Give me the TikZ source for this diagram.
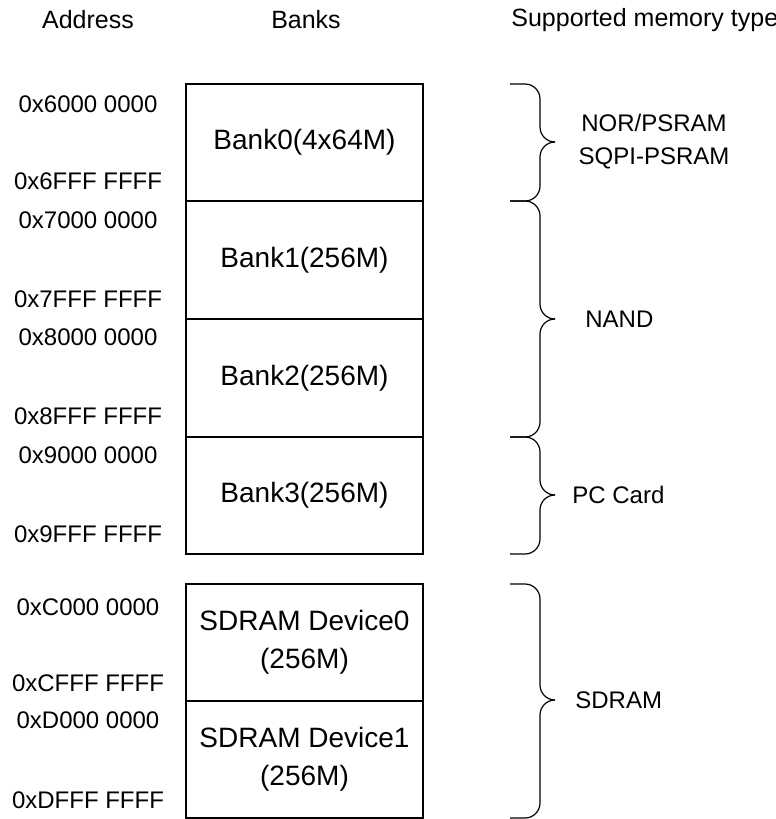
\documentclass[tikz,border=0pt]{standalone}
\usepackage{fontspec}
\setmainfont{Liberation Sans}
\usetikzlibrary{positioning}

\tikzset{
  bank/.style={draw, line width=0.6pt, minimum width=118.5pt, minimum height=58.5pt,
    inner sep=0pt, align=center, font=\fontsize{14}{19}\selectfont},
  addr/.style={font=\fontsize{12}{14}\selectfont, inner sep=0pt},
  head/.style={font=\fontsize{12.5}{15}\selectfont, inner sep=0pt},
  memtype/.style={font=\fontsize{12}{16.5}\selectfont, inner sep=0pt, align=center},
  membrace/.style={line width=0.6pt, rounded corners=7.5pt},
}

\begin{document}
\begin{tikzpicture}[x=0.5pt, y=-0.5pt]
  \useasboundingbox (0,0) rectangle (776,819);

  % column heads
  \node[head] (hAddr) at (88,20) {Address};
  \node[head] (hBanks) at (306,20) {Banks};
  \node[head, anchor=west] (hType) at (511,20) {Supported memory type};

  % banks
  \node[bank] (b0) at (304.5,142.5) {Bank0(4x64M)};
  \node[bank] (b1) at (304.5,260) {Bank1(256M)};
  \node[bank] (b2) at (304.5,378) {Bank2(256M)};
  \node[bank] (b3) at (304.5,495.5) {Bank3(256M)};
  \node[bank] (sd0) at (304.5,642.5) {SDRAM Device0\\(256M)};
  \node[bank] (sd1) at (304.5,759.5) {SDRAM Device1\\(256M)};

  % addresses
  \node[addr] (a60) at (88,104) {0x6000 0000};
  \node[addr] (a6F) at (88,181) {0x6FFF FFFF};
  \node[addr] (a70) at (88,220) {0x7000 0000};
  \node[addr] (a7F) at (88,299) {0x7FFF FFFF};
  \node[addr] (a80) at (88,337) {0x8000 0000};
  \node[addr] (a8F) at (88,416) {0x8FFF FFFF};
  \node[addr] (a90) at (88,455) {0x9000 0000};
  \node[addr] (a9F) at (88,534) {0x9FFF FFFF};
  \node[addr] (aC0) at (88,607) {0xC000 0000};
  \node[addr] (aCF) at (88,683) {0xCFFF FFFF};
  \node[addr] (aD0) at (88,720) {0xD000 0000};
  \node[addr] (aDF) at (88,800) {0xDFFF FFFF};

  % braces
  \foreach \t/\m/\b in {84/142/201, 201/319/437, 437/495/554, 584/700/818} {
    \draw[membrace] (510,\t) -- (540,\t) -- (540,\m) -- (555,\m);
    \draw[membrace] (555,\m) -- (540,\m) -- (540,\b) -- (510,\b);
  }

  % memory types
  \node[memtype] (tNor) at (654,142) {NOR/PSRAM\\SQPI-PSRAM};
  \node[memtype, anchor=west] (tNand) at (585,319) {NAND};
  \node[memtype, anchor=west] (tPc) at (572,495) {PC Card};
  \node[memtype, anchor=west] (tSd) at (575,700) {SDRAM};
\end{tikzpicture}
\end{document}
